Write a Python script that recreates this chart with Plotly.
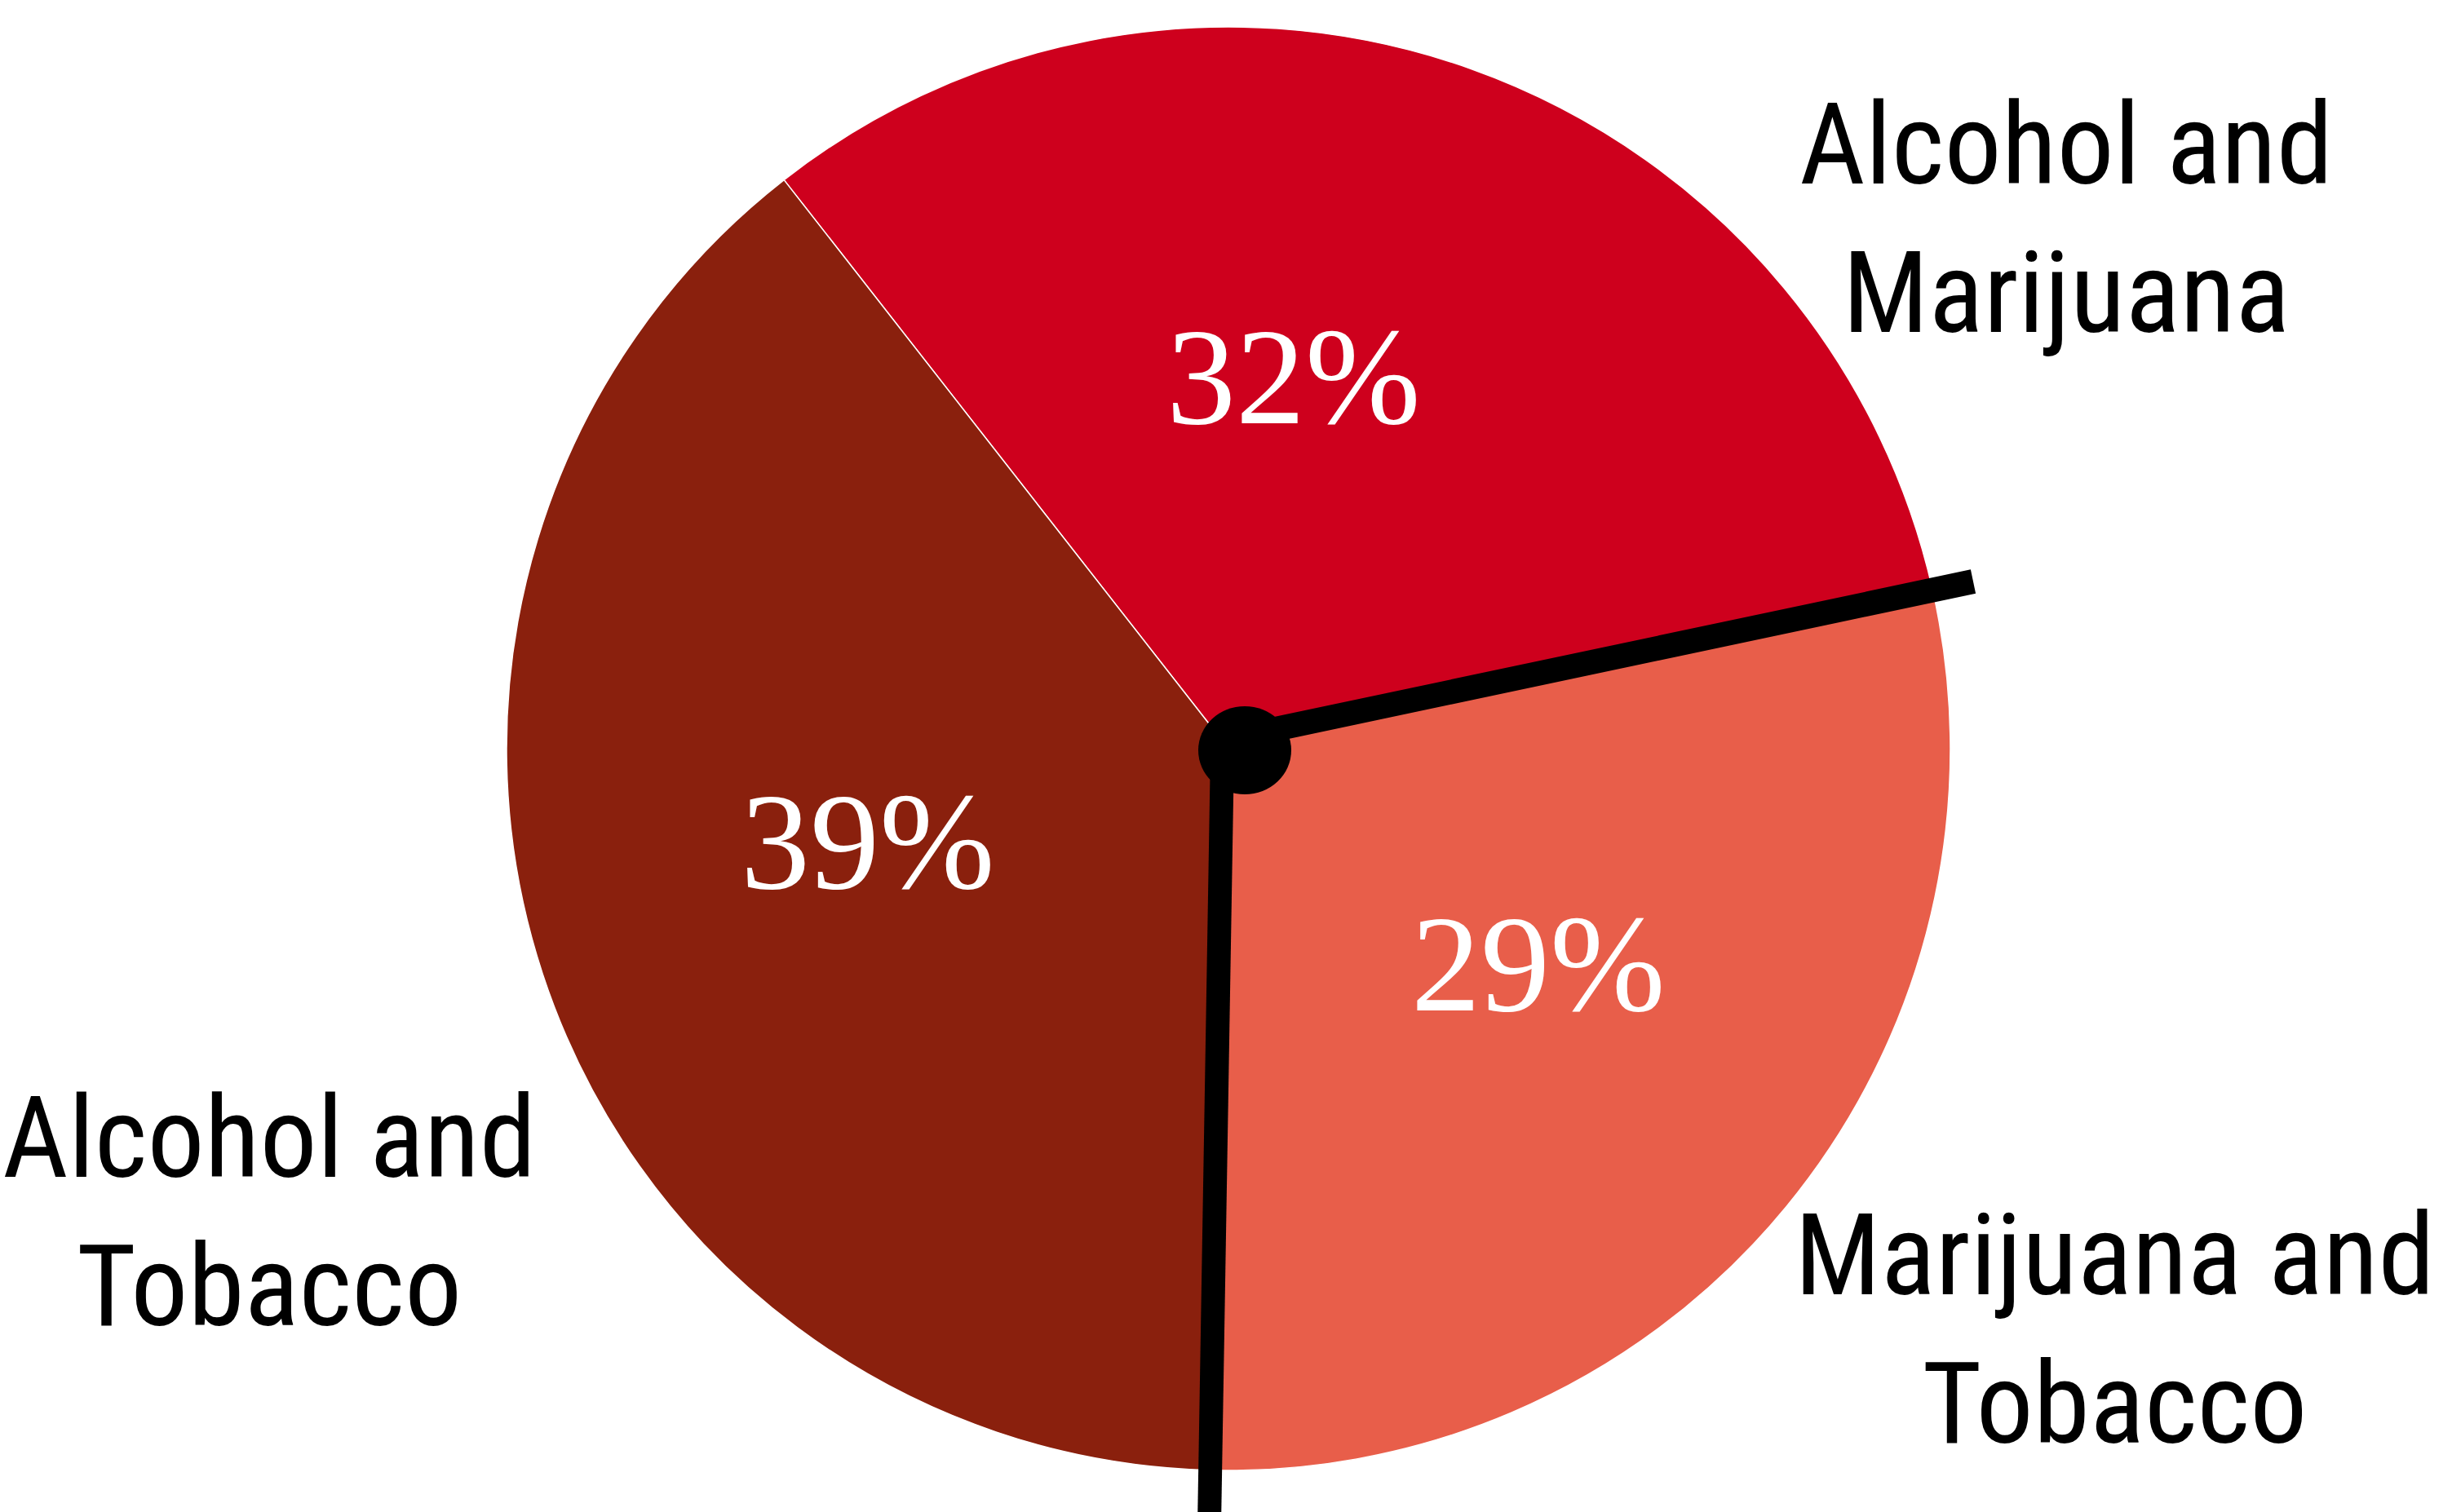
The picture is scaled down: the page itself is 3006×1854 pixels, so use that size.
import plotly.graph_objects as go

# ---- data ----
categories = ["Alcohol and Marijuana", "Marijuana and Tobacco", "Alcohol and Tobacco"]
shares = [32, 29, 39]

# ---- style ----
slice_colors = ["#CE001D", "#E85E4A", "#8A200D"]
W, H = 3006, 1854


def px(x):
    return x / W


def py(y):
    return 1 - y / H


# pie geometry (pixels)
cx, cy, r = 1506, 918, 885

# label placement (pixel centres) - layout only
pct_pos = [(1586, 462), (1886, 1182), (1064, 1032)]
lab_pos = [(2533, 268), (2592, 1630), (330, 1486)]

fig = go.Figure(go.Pie(
    labels=categories,
    values=shares,
    sort=False,
    direction="clockwise",
    rotation=-38,
    marker=dict(colors=slice_colors, line=dict(color="white", width=1.5)),
    textinfo="none",
    hoverinfo="skip",
    showlegend=False,
    domain=dict(x=[px(cx - r), px(cx + r)], y=[py(cy + r), py(cy - r)]),
))

annotations = []
serif = "Liberation Serif, Times New Roman, serif"
narrow = "Roboto Condensed, Open Sans Condensed, DejaVu Sans Condensed, sans-serif"
for v, (x, y) in zip(shares, pct_pos):
    annotations.append(dict(x=px(x), y=py(y), xref="paper", yref="paper",
                            text=f"{v}%", showarrow=False,
                            xanchor="center", yanchor="middle",
                            font=dict(family=serif, size=170, color="white")))
for c, (x, y) in zip(categories, lab_pos):
    a, b = c.split(" and ")
    annotations.append(dict(x=px(x), y=py(y), xref="paper", yref="paper",
                            text=f"{a} and<br>{b}", showarrow=False, align="center",
                            xanchor="center", yanchor="middle",
                            font=dict(family=narrow, size=140, color="black")))

shapes = [
    dict(type="line", xref="paper", yref="paper",
         x0=px(1526), y0=py(902), x1=px(2419), y1=py(713),
         line=dict(color="black", width=30), layer="above"),
    dict(type="line", xref="paper", yref="paper",
         x0=px(1498.5), y0=py(920), x1=px(1482), y1=py(1900),
         line=dict(color="black", width=29), layer="above"),
    dict(type="circle", xref="paper", yref="paper",
         x0=px(1469), x1=px(1583), y0=py(974), y1=py(866),
         fillcolor="black", line=dict(color="black", width=0), layer="above"),
]

fig.update_layout(
    width=W, height=H,
    margin=dict(l=0, r=0, t=0, b=0),
    paper_bgcolor="white",
    plot_bgcolor="white",
    annotations=annotations,
    shapes=shapes,
)

fig.write_html("out.html", config={"displayModeBar": False},
               post_script="document.body.style.margin='0';")
